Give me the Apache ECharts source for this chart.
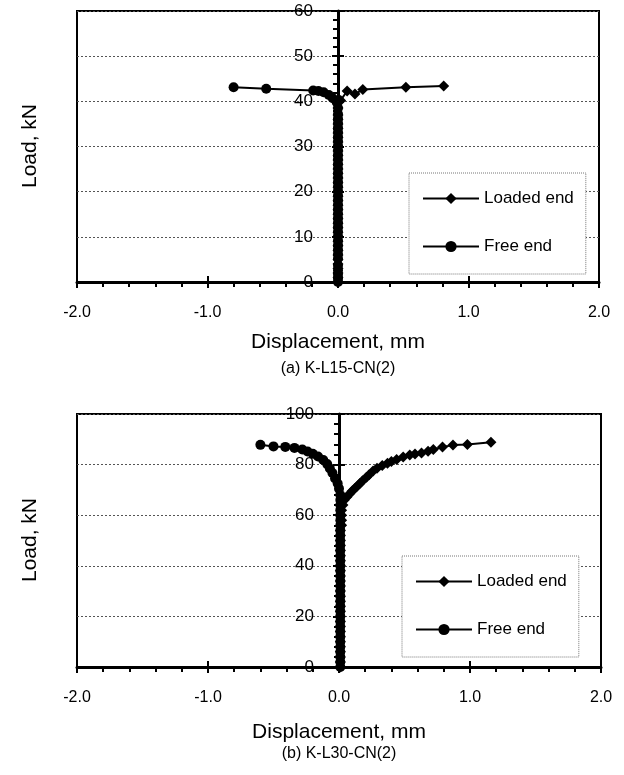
<!DOCTYPE html>
<html><head><meta charset="utf-8">
<script src="https://cdn.jsdelivr.net/npm/echarts@6/dist/echarts.min.js"></script>
<style>html,body{margin:0;padding:0;background:#fff}#c{width:624px;height:775px}</style>
</head><body><div id="c"></div>
<script>
// ---- data (displacement mm, load kN) ----
const seriesNames = ['Loaded end', 'Free end'];
const captions = ['(a) K-L15-CN(2)', '(b) K-L30-CN(2)'];
const xTitle = 'Displacement, mm';
const yTitle = 'Load, kN';
const xRange = [-2, 2];
const yRangeA = [0, 60];
const yRangeB = [0, 100];

const aLoaded = [[0,0],[0,1],[0,2],[0,3],[0,4],[0,5],[0,6],[0,7],[0,8],[0,9],[0,10],[0,11],[0,12],[0,13],[0,14],[0,15],[0,16],[0,17],[0,18],[0,19],[0,20],[0,21],[0,22],[0,23],[0,24],[0,25],[0,26],[0,27],[0,28],[0,29],[0,30],[0,31],[0,32],[0,33],[0,34],[0,35],[0,36],[0,37],[0,38.5],[0.02,40.2],[0.07,42.3],[0.13,41.6],[0.19,42.6],[0.52,43.1],[0.81,43.4]];
const aFree = [[0,0],[0,0.8],[0,1.6],[0,2.6],[0,3.6],[0,5.2],[0,6.2],[0,7.2],[0,8.2],[0,9.2],[0,10.2],[0,11.2],[0,12.2],[0,13.2],[0,14.2],[0,15.2],[0,16.2],[0,17.2],[0,18.2],[0,19.2],[0,20.2],[0,21.2],[0,22.2],[0,23.2],[0,24.2],[0,25.2],[0,26.2],[0,27.2],[0,28.2],[0,29.2],[0,30.2],[0,31.2],[0,32.2],[0,33.2],[0,34.2],[0,35.2],[0,36.2],[0,37.2],[0,38.5],[-0.01,39.8],[-0.04,40.7],[-0.07,41.4],[-0.11,42.0],[-0.15,42.3],[-0.19,42.4],[-0.55,42.8],[-0.80,43.1]];

const bLoaded = [[0.01,0],[0.01,2],[0.01,4],[0.01,6],[0.01,8],[0.01,10],[0.01,12],[0.01,14],[0.01,16],[0.01,18],[0.01,20],[0.01,22],[0.01,24],[0.01,26],[0.01,28],[0.01,30],[0.01,32],[0.01,34],[0.01,36],[0.01,38],[0.01,40],[0.01,42],[0.01,44],[0.01,46],[0.01,48],[0.01,50],[0.01,52],[0.01,54],[0.02,56],[0.02,58],[0.02,60],[0.02,62],[0.03,64],[0.04,66],[0.06,67.2],[0.08,68.4],[0.10,69.6],[0.12,70.6],[0.14,71.5],[0.16,72.5],[0.18,73.6],[0.21,75.0],[0.23,76.0],[0.26,77.5],[0.29,78.6],[0.33,79.6],[0.37,80.5],[0.40,81.2],[0.44,82.0],[0.49,83.0],[0.54,83.8],[0.58,84.2],[0.63,84.6],[0.68,85.3],[0.72,86.0],[0.79,87.0],[0.87,87.7],[0.98,87.9],[1.16,88.8]];
const bFree = [[0.01,0],[0.01,2],[0.01,4],[0.01,6],[0.01,8],[0.01,10],[0.01,12],[0.01,14],[0.01,16],[0.01,18],[0.01,20],[0.01,22],[0.01,24],[0.01,26],[0.01,28],[0.01,30],[0.01,32],[0.01,34],[0.01,36],[0.01,38],[0.01,40],[0.01,42],[0.01,44],[0.01,46],[0.01,48],[0.01,50],[0.01,52],[0.01,54],[0.01,56],[0.01,58],[0.01,60],[0.01,62],[0.01,64],[0.01,66],[0.01,68],[0,70.5],[-0.01,72.5],[-0.03,74.5],[-0.05,76.7],[-0.07,78.5],[-0.09,80.2],[-0.12,81.8],[-0.16,83.2],[-0.20,84.3],[-0.24,85.2],[-0.28,86.0],[-0.34,86.6],[-0.41,87.0],[-0.50,87.2],[-0.60,87.8]];

// ---- chart ----
const FONT = 'Liberation Sans, Arial, sans-serif';
const grids = [
  {left: 77, top: 11, width: 522, height: 271},
  {left: 77, top: 414, width: 524, height: 253}
];
const tickStyle = {color: '#000', width: 2};

function mainX(g) {
  return {gridIndex: g, type: 'value', min: xRange[0], max: xRange[1], interval: 1, position: 'bottom',
    axisLine: {onZero: false, lineStyle: {color: '#000', width: 3}},
    axisTick: {show: true, inside: false, length: 6, lineStyle: tickStyle},
    minorTick: {show: true, splitNumber: 5, length: 5, lineStyle: tickStyle},
    axisLabel: {margin: 23, fontSize: 16, color: '#000', fontFamily: FONT, showMinLabel: true, showMaxLabel: true,
      formatter: v => v.toFixed(1)},
    splitLine: {show: false}, minorSplitLine: {show: false}};
}
function overX(g) {
  return {gridIndex: g, type: 'value', min: xRange[0], max: xRange[1], interval: 1, position: 'bottom',
    axisLine: {show: false, onZero: false},
    axisTick: {show: true, inside: true, length: 6, lineStyle: tickStyle},
    axisLabel: {show: false}, splitLine: {show: false}};
}
// y axis is drawn through x = 0: shift it inward by half of the grid width
function mainY(g, r, iv) {
  return {gridIndex: g, type: 'value', min: r[0], max: r[1], interval: iv, position: 'left',
    offset: -grids[g].width / 2,
    axisLine: {onZero: false, lineStyle: {color: '#000', width: 3}},
    axisTick: {show: true, inside: false, length: 6, lineStyle: tickStyle},
    minorTick: {show: true, splitNumber: 5, length: 5, lineStyle: tickStyle},
    axisLabel: {margin: 25, fontSize: 17, color: '#000', fontFamily: FONT},
    splitLine: {show: true, lineStyle: {color: '#555', width: 1, type: [2, 2]}}};
}
function overY(g, r, iv) {
  return {gridIndex: g, type: 'value', min: r[0], max: r[1], interval: iv, position: 'left',
    offset: -grids[g].width / 2,
    axisLine: {show: false, onZero: false},
    axisTick: {show: true, inside: true, length: 6, lineStyle: tickStyle},
    axisLabel: {show: false}, splitLine: {show: false}};
}
function ser(name, data, xi, yi, sym, size) {
  return {name: name, type: 'line', data: data, xAxisIndex: xi, yAxisIndex: yi,
    symbol: sym, symbolSize: size, showAllSymbol: true, z: 5,
    lineStyle: {color: '#000', width: 2}, itemStyle: {color: '#000'}};
}
function legendAt(left, top) {
  return {left: left, top: top, orient: 'vertical', data: seriesNames, selectedMode: false,
    itemWidth: 56, itemHeight: 14, itemGap: 31,
    padding: [17, 12, 19, 13],
    borderColor: '#777', borderWidth: 1, borderType: 'dotted', backgroundColor: '#fff',
    lineStyle: {width: 2},
    textStyle: {fontSize: 17, color: '#000', fontFamily: FONT}};
}
function txt(x, y, text, size, rot) {
  return {type: 'text', x: x, y: y, rotation: rot || 0,
    style: {text: text, fontSize: size, fontFamily: FONT, fill: '#000', align: 'center', verticalAlign: 'middle'}};
}

const chart = echarts.init(document.getElementById('c'), null, {renderer: 'canvas'});
chart.setOption({
  animation: false,
  backgroundColor: '#fff',
  grid: grids.map(g => Object.assign({show: true, borderColor: '#000', borderWidth: 2, backgroundColor: 'transparent'}, g)),
  xAxis: [mainX(0), mainX(1), overX(0), overX(1)],
  yAxis: [mainY(0, yRangeA, 10), mainY(1, yRangeB, 20), overY(0, yRangeA, 10), overY(1, yRangeB, 20)],
  legend: [legendAt(409, 173), legendAt(402, 556)],
  series: [
    ser(seriesNames[0], aLoaded, 0, 0, 'diamond', 11),
    ser(seriesNames[1], aFree, 0, 0, 'circle', 10),
    ser(seriesNames[0], bLoaded, 1, 1, 'diamond', 11),
    ser(seriesNames[1], bFree, 1, 1, 'circle', 10)
  ],
  graphic: [
    txt(30, 146, yTitle, 21, Math.PI / 2),
    txt(30, 540, yTitle, 21, Math.PI / 2),
    txt(338, 342, xTitle, 21),
    txt(338, 369, captions[0], 16),
    txt(339, 732, xTitle, 21),
    txt(339, 754, captions[1], 16)
  ]
});
</script></body></html>
